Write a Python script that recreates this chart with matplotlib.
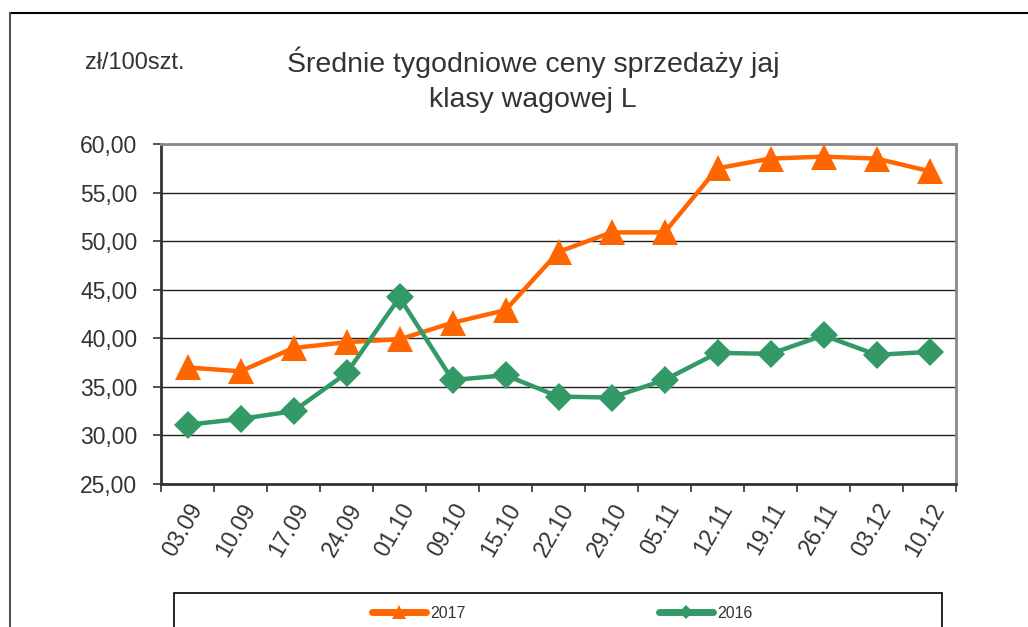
import matplotlib
matplotlib.use("Agg")
import matplotlib.pyplot as plt
from matplotlib.lines import Line2D
from matplotlib.patches import Rectangle
from matplotlib.ticker import FuncFormatter, FixedLocator

plt.rcParams['font.family'] = ['Liberation Sans', 'DejaVu Sans']

# data
weeks = ['03.09', '10.09', '17.09', '24.09', '01.10', '09.10', '15.10', '22.10',
         '29.10', '05.11', '12.11', '19.11', '26.11', '03.12', '10.12']
prices_2017 = [37.0, 36.6, 39.0, 39.6, 39.9, 41.6, 42.9, 48.9,
               50.9, 50.9, 57.5, 58.5, 58.7, 58.5, 57.2]
prices_2016 = [31.1, 31.7, 32.5, 36.4, 44.2, 35.7, 36.2, 34.0,
               33.9, 35.7, 38.5, 38.4, 40.3, 38.3, 38.6]

orange = '#FF6600'
green = '#339966'
txt = '#333333'

W, H = 1028, 627
fig = plt.figure(figsize=(W / 100, H / 100), dpi=100)
ax = fig.add_axes([161 / W, 1 - 484 / H, (956 - 161) / W, (484 - 144) / H])

x = list(range(len(weeks)))
ax.plot(x, prices_2017, color=orange, lw=3.2, marker='^', ms=19,
        markeredgewidth=0, label='2017', zorder=3)
ax.plot(x, prices_2016, color=green, lw=3.2, marker='D', ms=14,
        markeredgewidth=0, label='2016', zorder=3)

ax.set_xlim(-0.5, len(weeks) - 0.5)
ax.set_ylim(25, 60)
ax.set_yticks([25, 30, 35, 40, 45, 50, 55, 60])
ax.yaxis.set_major_formatter(FuncFormatter(lambda v, p: f'{v:.2f}'.replace('.', ',')))
ax.grid(axis='y', color='#222222', lw=1, zorder=1)
ax.set_axisbelow(True)

# category labels at centres, tick marks at boundaries
ax.set_xticks(x)
ax.set_xticklabels(weeks, rotation=60, ha='right', rotation_mode='anchor')
ax.xaxis.set_minor_locator(FixedLocator([i - 0.5 for i in range(len(weeks) + 1)]))
ax.tick_params(axis='x', which='major', length=0, pad=11, labelsize=16.5, labelcolor=txt)
ax.tick_params(axis='x', which='minor', length=6, width=1.2, color='#333333', direction='out')
ax.tick_params(axis='y', length=6, width=1.2, color='#333333', pad=11,
               labelsize=16.5, labelcolor=txt)

for side in ['top', 'right']:
    ax.spines[side].set_color('#888888')
    ax.spines[side].set_linewidth(2)
for side in ['left', 'bottom']:
    ax.spines[side].set_color('#333333')
    ax.spines[side].set_linewidth(2)

fig.text(85 / W, 1 - 63 / H, 'zł/100szt.', fontsize=17, color=txt,
         ha='left', va='center')
fig.text(533 / W, 1 - 80 / H, 'Średnie tygodniowe ceny sprzedaży jaj\nklasy wagowej L',
         fontsize=20.5, color=txt, ha='center', va='center', linespacing=1.45)

# outer frame of the chart area
fig.add_artist(Line2D([10 / W, 1], [1 - 13 / H, 1 - 13 / H], color='black', lw=1.5))
fig.add_artist(Line2D([10 / W, 10 / W], [0, 1 - 13 / H], color='#555555', lw=1.5))

# legend box (runs off the bottom of the picture)
fig.add_artist(Rectangle((174 / W, -0.1), (942 - 174) / W, (1 - 593 / H) + 0.1,
                         transform=fig.transFigure, fill=False, edgecolor='black', lw=1.2))
handles = [Line2D([], [], color=orange, lw=5, marker='^', ms=10, markeredgewidth=0,
                  solid_capstyle='round'),
           Line2D([], [], color=green, lw=5, marker='D', ms=7, markeredgewidth=0,
                  solid_capstyle='round')]
leg = fig.legend(handles, ['2017', '2016'], loc='center', ncol=2,
                 bbox_to_anchor=(562 / W, 1 - 613 / H), frameon=False,
                 fontsize=11.5, handlelength=3.4, handletextpad=0.25,
                 columnspacing=12.1, borderpad=0, borderaxespad=0)
for t in leg.get_texts():
    t.set_color(txt)

fig.savefig('out.png', dpi=100)
